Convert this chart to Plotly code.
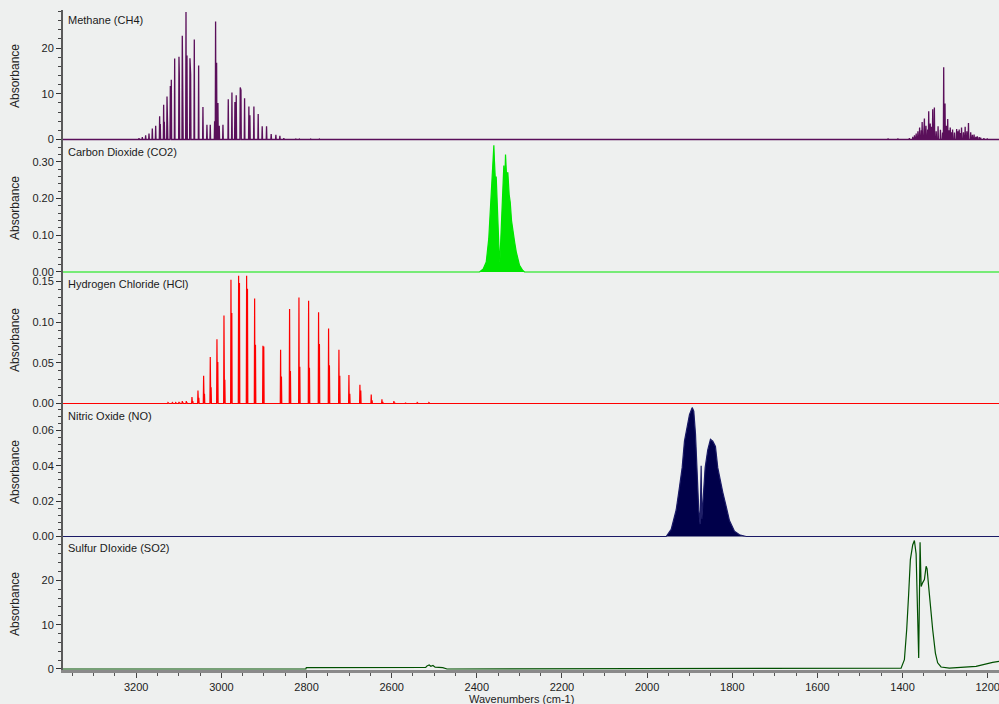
import plotly.graph_objects as go
from plotly.subplots import make_subplots

# ---------------- data ----------------
x_range = [3372, 1173.5]
x_ticks = [3200, 3000, 2800, 2600, 2400, 2200, 2000, 1800, 1600, 1400, 1200]

panel_titles = ["Methane (CH4)", "Carbon Dioxide (CO2)", "Hydrogen Chloride (HCl)",
                "Nitric Oxide (NO)", "Sulfur DIoxide (SO2)"]

# Methane line positions (cm-1) and absorbance
ch4_lines_cm = [3193.5, 3185.7, 3177.9, 3170.0, 3162.2, 3154.3, 3145.0, 3143.5, 3135.6, 3134.0,
                3127.7, 3126.5, 3119.9, 3117.6, 3109.7, 3099.6, 3098.8, 3091.8, 3090.5, 3083.1,
                3080.8, 3073.8, 3072.2, 3063.6, 3053.4, 3043.3, 3033.9, 3026.1, 3015.9, 3013.6,
                3011.2, 3008.1, 3005.0, 2996.3, 2983.8, 2975.2, 2968.2, 2965.1, 2955.7, 2954.0,
                2945.5, 2935.4, 2933.0, 2923.6, 2913.5, 2904.1, 2893.9, 2883.0, 2872.0, 2862.6,
                2853.3, 2825.0, 2817.0, 2790.0, 2770.0,
                1434.0, 1411.0, 1384.0, 1376.0, 1372.0, 1368.0, 1364.0, 1360.0, 1356.0, 1354.0,
                1350.0, 1348.7, 1345.0, 1341.0, 1338.6, 1335.0, 1332.0, 1329.2, 1325.3, 1321.0,
                1316.6, 1311.0, 1306.0, 1303.4, 1300.3, 1297.0, 1294.0, 1291.0, 1288.0, 1285.0,
                1282.5, 1278.0, 1273.0, 1270.0, 1267.0, 1264.0, 1261.5, 1257.0, 1253.0, 1249.0,
                1245.2, 1240.0, 1236.0, 1232.0, 1228.0, 1224.5, 1220.0, 1216.6, 1209.0, 1201.0]
ch4_lines_abs = [0.3, 0.5, 0.9, 1.3, 2.4, 3.0, 5.1, 3.4, 7.6, 3.9,
                 9.4, 4.0, 11.7, 13.1, 17.7, 18.1, 14.5, 22.7, 18.4, 27.9,
                 18.4, 17.8, 14.3, 21.9, 16.2, 7.1, 3.2, 3.2, 4.0, 25.8,
                 16.8, 8.0, 3.0, 3.2, 8.8, 10.3, 8.2, 9.7, 11.4, 10.8,
                 9.0, 7.2, 5.3, 7.2, 5.6, 2.9, 2.9, 1.2, 1.0, 0.8,
                 0.3, 0.1, 0.1, 0.1, 0.1,
                 0.2, 0.2, 0.3, 0.6, 0.9, 1.3, 1.8, 2.6, 2.0, 3.8,
                 2.4, 4.6, 3.0, 2.2, 6.2, 3.5, 2.8, 6.6, 7.0, 1.8,
                 2.9, 2.1, 1.5, 15.8, 7.9, 3.0, 4.5, 2.0, 2.6, 1.6,
                 2.2, 1.5, 2.3, 1.8, 2.2, 1.4, 2.6, 1.6, 2.8, 1.8,
                 3.6, 1.6, 1.0, 1.1, 0.6, 0.7, 0.5, 0.4, 0.3, 0.2]

# Carbon dioxide band envelope
co2_cm = [2400, 2393.6, 2385.0, 2377.9, 2372.0, 2370.1, 2367.0, 2364.7, 2362.0, 2360.0,
          2358.5, 2357.5, 2356.0, 2354.5, 2353.0, 2351.5, 2349.8, 2347.5, 2345.9, 2343.5,
          2341.2, 2339.0, 2336.6, 2334.5, 2332.6, 2330.5, 2327.1, 2324.0, 2321.5, 2318.5,
          2315.4, 2311.0, 2307.4, 2303.0, 2299.7, 2292.0, 2287.9, 2280]
co2_abs = [0.0, 0.0, 0.008, 0.027, 0.09, 0.127, 0.20, 0.236, 0.31, 0.345,
           0.30, 0.25, 0.24, 0.26, 0.21, 0.15, 0.09, 0.05, 0.027, 0.10,
           0.19, 0.25, 0.29, 0.24, 0.32, 0.27, 0.27, 0.21, 0.19, 0.14,
           0.11, 0.08, 0.055, 0.03, 0.018, 0.004, 0.0, 0.0]

# Hydrogen chloride lines (H35Cl) and isotope companions (H37Cl)
hcl_lines_cm = [3125.4, 3115.2, 3107.4, 3099.6, 3091.8, 3082.4, 3069.1, 3055.0, 3041.7, 3026.1,
                3010.4, 2993.9, 2977.5, 2959.5, 2940.7, 2921.9, 2902.4, 2860.9, 2839.8, 2817.8,
                2795.1, 2771.7, 2748.2, 2723.9, 2700.4, 2674.6, 2648.0, 2622.9, 2594.8, 2567.4,
                2540.0, 2512.6]
hcl_lines_abs = [0.001, 0.001, 0.001, 0.002, 0.003, 0.003, 0.008, 0.016, 0.034, 0.057,
                 0.079, 0.108, 0.152, 0.157, 0.157, 0.129, 0.071, 0.066, 0.116, 0.130,
                 0.126, 0.112, 0.092, 0.066, 0.035, 0.023, 0.011, 0.005, 0.003, 0.001,
                 0.001, 0.001]
hcl_iso_abs = [0.0, 0.0, 0.0, 0.001, 0.001, 0.001, 0.003, 0.007, 0.012, 0.020,
               0.051, 0.029, 0.111, 0.148, 0.141, 0.072, 0.070, 0.033, 0.040, 0.045,
               0.044, 0.073, 0.047, 0.034, 0.012, 0.016, 0.004, 0.002, 0.001, 0.0,
               0.0, 0.0]

# Nitric oxide band envelope
no_cm = [1990, 1955.2, 1943.5, 1931.8, 1924.0, 1917.7, 1912.3, 1906.9, 1900.5, 1894.2,
         1890.4, 1886.4, 1882.5, 1878.7, 1875.5, 1873.1, 1871.5, 1869.3, 1863.7, 1857.6,
         1851.2, 1845.8, 1839.5, 1834.1, 1828.4, 1822.3, 1814.3, 1806.6, 1794.8, 1783.1,
         1767.5, 1740]
no_abs = [0.0, 0.0, 0.004, 0.015, 0.028, 0.039, 0.054, 0.062, 0.069, 0.073,
          0.071, 0.058, 0.030, 0.015, 0.007, 0.040, 0.010, 0.020, 0.039, 0.049,
          0.055, 0.054, 0.051, 0.039, 0.032, 0.025, 0.017, 0.009, 0.003, 0.001,
          0.0, 0.0]

# Sulfur dioxide spectrum
so2_cm = [3372, 2801.5, 2800.5, 2600, 2598, 2520, 2517, 2512, 2508, 2503,
          2498, 2480, 2470, 1470.1, 1403.5, 1395.7, 1390.3, 1385.6, 1381.7, 1376.2,
          1372.2, 1368.2, 1365.2, 1362.1, 1358.9, 1356.4, 1352.7, 1348.7, 1344.7, 1342.4,
          1338.7, 1334.7, 1329.3, 1322.9, 1317.6, 1309.6, 1290.1, 1227.5, 1211.9, 1188.4,
          1173.5]
so2_abs = [0.0, 0.0, 0.3, 0.3, 0.35, 0.35, 0.7, 0.9, 0.6, 0.8,
           0.4, 0.3, 0.0, 0.2, 0.2, 2.1, 8.9, 17.1, 24.7, 28.0,
           29.0, 26.0, 14.9, 2.5, 28.6, 18.6, 19.5, 20.2, 23.2, 22.6,
           18.6, 14.1, 8.9, 3.6, 1.4, 0.45, 0.2, 0.6, 1.0, 1.5,
           1.7]

# ---------------- helpers ----------------
def spikes(centers, heights, half=0.8):
    pts = sorted(zip(centers, heights), key=lambda t: -t[0])
    xs, ys = [x_range[0]], [0.0]
    for c, h in pts:
        xs += [c + half, c, c - half]
        ys += [0.0, h, 0.0]
    xs.append(x_range[1])
    ys.append(0.0)
    return xs, ys

hcl_all_cm = hcl_lines_cm + [c - 2.0 for c in hcl_lines_cm]
hcl_all_abs = hcl_lines_abs + hcl_iso_abs

bg = "#eef0ef"
font_family = "Liberation Sans, Arial, sans-serif"

fig = make_subplots(rows=5, cols=1, shared_xaxes=True, vertical_spacing=0)

cx, cy = spikes(ch4_lines_cm, ch4_lines_abs)
fig.add_trace(go.Scatter(x=cx, y=cy, mode="lines", line=dict(color="#5a0f5a", width=1.3)), row=1, col=1)

fig.add_trace(go.Scatter(x=[x_range[0]] + co2_cm + [x_range[1]], y=[0] + co2_abs + [0], mode="lines",
                         fill="tozeroy", fillcolor="#00e600",
                         line=dict(color="#00e600", width=1.2)), row=2, col=1)

hx, hy = spikes(hcl_all_cm, hcl_all_abs)
fig.add_trace(go.Scatter(x=hx, y=hy, mode="lines", line=dict(color="#ff0000", width=1.2)), row=3, col=1)

fig.add_trace(go.Scatter(x=[x_range[0]] + no_cm + [x_range[1]], y=[0] + no_abs + [0], mode="lines",
                         fill="tozeroy", fillcolor="#00004a",
                         line=dict(color="#1a1a66", width=1.2)), row=4, col=1)

fig.add_trace(go.Scatter(x=so2_cm, y=so2_abs, mode="lines",
                         line=dict(color="#005000", width=1.2)), row=5, col=1)

y_ranges = [[-0.55, 28.34], [-0.0055, 0.354], [-0.0031, 0.159], [-0.00085, 0.0739], [-0.23, 29.57]]
y_dticks = [10, 0.1, 0.05, 0.02, 10]
y_minor = [2, 0.02, 0.01, 0.004, 2]
y_formats = ["d", ".2f", ".2f", ".2f", "d"]

for i in range(5):
    yname = "yaxis" if i == 0 else f"yaxis{i+1}"
    fig.layout[yname].update(
        range=y_ranges[i], dtick=y_dticks[i], tick0=0, tickformat=y_formats[i],
        showgrid=False, zeroline=False, showline=True, linecolor="#5a5a5a", linewidth=2,
        ticks="outside", ticklen=5, tickcolor="#333", tickwidth=1,
        minor=dict(dtick=y_minor[i], ticks="outside", ticklen=3, tickcolor="#444", showgrid=False),
        tickfont=dict(family=font_family, size=11, color="#222"),
    )
    xname = "xaxis" if i == 0 else f"xaxis{i+1}"
    fig.layout[xname].update(range=x_range, showgrid=False, zeroline=False)
    if i < 4:
        fig.layout[xname].update(showticklabels=False, ticks="", showline=False)
    else:
        fig.layout[xname].update(
            tickvals=x_ticks, tickformat="d", showline=True, linecolor="#8a8a8a", linewidth=3,
            ticks="outside", ticklen=5, tickcolor="#444", ticklabeloverflow="allow",
            minor=dict(dtick=50, tick0=0, ticks="outside", ticklen=3, tickcolor="#555", showgrid=False),
            tickfont=dict(family=font_family, size=11, color="#222"),
        )
    fig.add_annotation(text=panel_titles[i], xref=f"{'x' if i == 0 else 'x' + str(i+1)} domain",
                       yref=f"{'y' if i == 0 else 'y' + str(i+1)} domain",
                       x=0.003, y=0.985, xanchor="left", yanchor="top", showarrow=False,
                       font=dict(family=font_family, size=11, color="#1a1a1a"))
    fig.add_annotation(text="Absorbance", xref="paper",
                       yref=f"{'y' if i == 0 else 'y' + str(i+1)} domain",
                       x=-48 / 936, y=0.5, xanchor="center", yanchor="middle", textangle=-90,
                       showarrow=False, font=dict(family=font_family, size=12, color="#222"))

fig.add_annotation(text="Wavenumbers (cm-1)", xref="paper", yref="paper",
                   x=(521 - 63) / 936, y=-28.5 / 660, xanchor="center", yanchor="middle",
                   showarrow=False, font=dict(family=font_family, size=11, color="#222"))

fig.update_layout(
    width=999, height=704, showlegend=False,
    margin=dict(l=63, r=0, t=10, b=34),
    paper_bgcolor=bg, plot_bgcolor=bg,
)

fig.write_html("out.html", config={"displayModeBar": False},
               post_script="document.body.style.margin='0';document.body.style.background='#eef0ef';")
